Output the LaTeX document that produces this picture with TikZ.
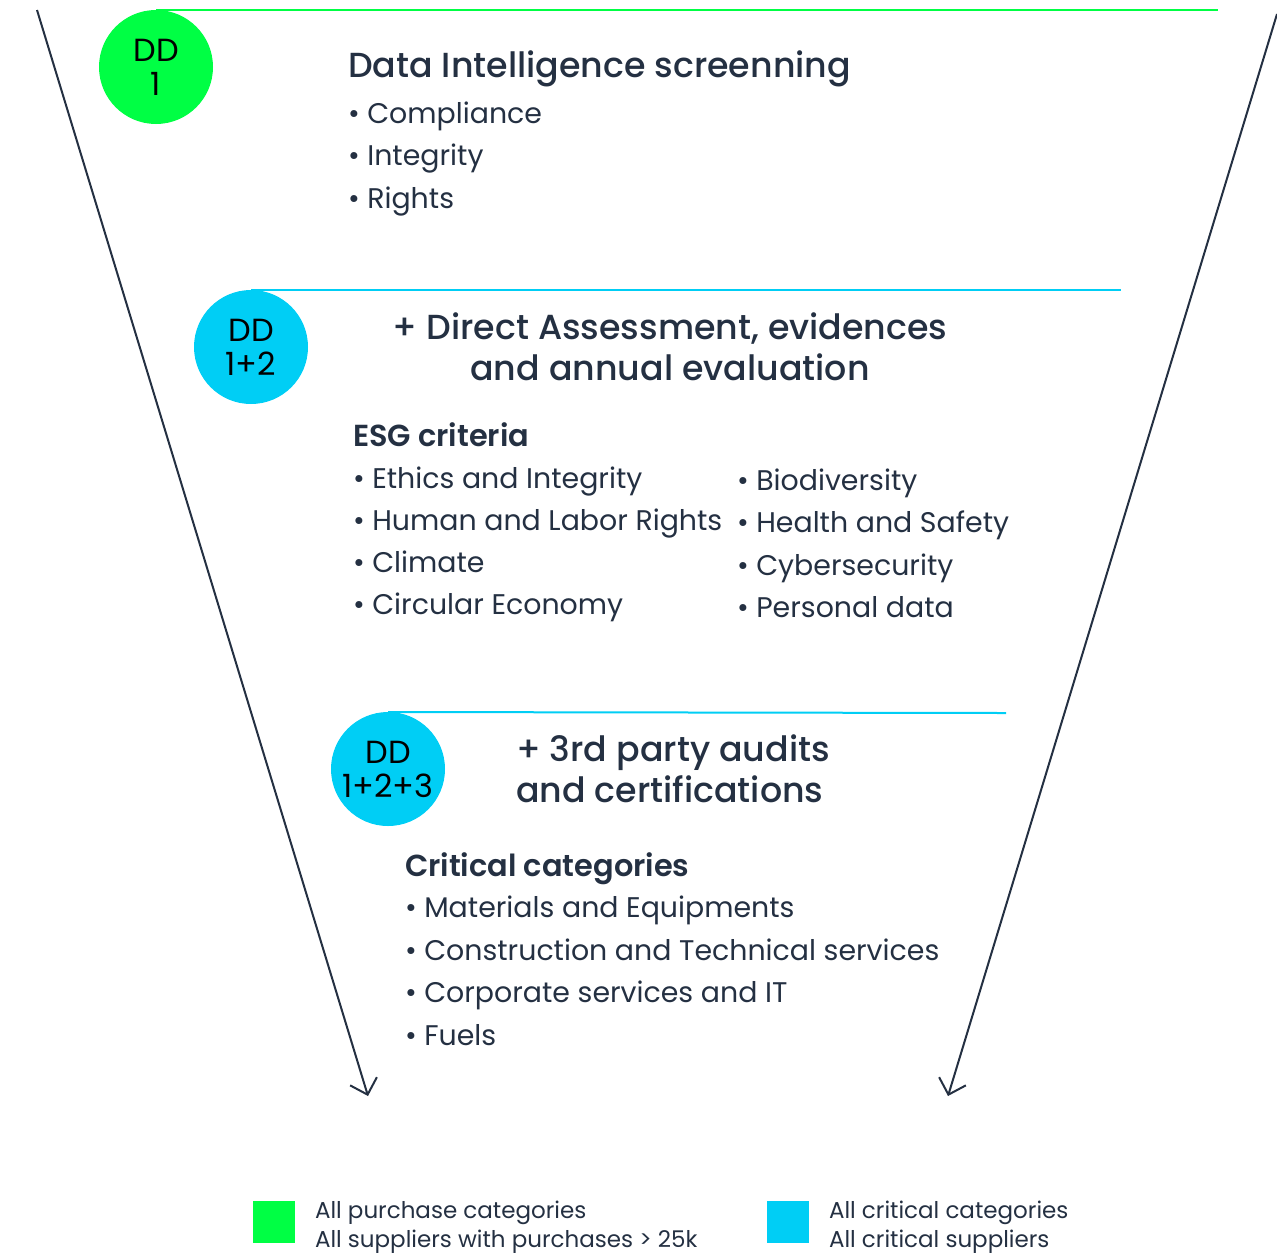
\documentclass[tikz,border=0pt]{standalone}
\usepackage{fontspec}
\setmainfont{Poppins}
\newfontfamily\medfont{Poppins Medium}
\newfontfamily\semifont{Poppins SemiBold}
\usetikzlibrary{arrows.meta}

\begin{document}
\begin{tikzpicture}[x=0.5pt,y=-0.5pt,
  every node/.style={inner sep=0pt, outer sep=0pt, text=inkcol},
  ddmark/.style={circle, minimum size=57pt, align=center, text=black,
    font=\fontsize{16}{17}\selectfont},
  headtxt/.style={anchor=base west, font=\medfont\fontsize{17.4}{21}\selectfont},
  subhead/.style={anchor=base west, font=\semifont\fontsize{15.2}{18}\selectfont},
  itemtxt/.style={anchor=base west, font=\fontsize{14.2}{17}\selectfont},
  keytxt/.style={anchor=base west, font=\fontsize{11.5}{14}\selectfont},
  keybox/.style={minimum size=21pt},
  funnel/.style={draw=inkcol, line width=1pt,
    -{Straight Barb[length=7pt,width=14pt,line width=1pt]}},
]

% Colours of the funnel
\definecolor{inkcol}{RGB}{36,48,66}
\definecolor{ddgreen}{RGB}{0,255,68}
\definecolor{ddcyan}{RGB}{0,206,245}

\useasboundingbox (0,0) rectangle (1277,1258);

% Funnel sides
\coordinate (ltop) at (37,10);
\coordinate (ltip) at (368,1096);
\coordinate (rtop) at (1277,14);
\coordinate (rtip) at (948,1096);
\draw[funnel] (ltop) -- (ltip);
\draw[funnel] (rtop) -- (rtip);

% Level 1
\node[ddmark, fill=ddgreen] (dd1) at (156,67) {DD\\1};
\coordinate (g-end) at (1218,10);
\draw[ddgreen, line width=1pt] (dd1.north) -- (g-end);

\node[headtxt] (head1) at (348,77) {Data Intelligence screenning};
\foreach \txt [count=\i] in {Compliance, Integrity, Rights} {
  \node[itemtxt] (lvl1-\i) at (348,{80.5+42.5*\i}) {\textbullet\ \txt};
}

% Level 2
\node[ddmark, fill=ddcyan] (dd2) at (251,347) {DD\\1+2};
\coordinate (c2-end) at (1121,290);
\draw[ddcyan, line width=1pt] (dd2.north) -- (c2-end);

\node[headtxt, anchor=base] (head2a) at (670,339) {+ Direct Assessment, evidences};
\node[headtxt, anchor=base] (head2b) at (670,380) {and annual evaluation};
\node[subhead] (esg) at (353,446) {ESG criteria};

\foreach \txt [count=\i] in {Ethics and Integrity, Human and Labor Rights,
    Climate, Circular Economy} {
  \node[itemtxt] (esgl-\i) at (353,{446+42*\i}) {\textbullet\ \txt};
}
\foreach \txt [count=\i] in {Biodiversity, Health and Safety,
    Cybersecurity, Personal data} {
  \node[itemtxt] (esgr-\i) at (737,{447.5+42.5*\i}) {\textbullet\ \txt};
}

% Level 3
\node[ddmark, fill=ddcyan] (dd3) at (388,769) {DD\\1+2+3};
\coordinate (c3-end) at (1006,713);
\draw[ddcyan, line width=1pt] (dd3.north) -- (c3-end);

\node[headtxt] (head3a) at (516,761) {+ 3rd party audits};
\node[headtxt] (head3b) at (516,802) {and certifications};
\node[subhead] (crit) at (405,876) {Critical categories};

\foreach \txt [count=\i] in {Materials and Equipments,
    Construction and Technical services, Corporate services and IT, Fuels} {
  \node[itemtxt] (crit-\i) at (405,{875+42.5*\i}) {\textbullet\ \txt};
}

% Legend
\node[keybox, fill=ddgreen] (key1) at (274,1222) {};
\node[keytxt] (key1a) at (315,1218) {All purchase categories};
\node[keytxt] (key1b) at (315,1247) {All suppliers with purchases > 25k};

\node[keybox, fill=ddcyan] (key2) at (788,1222) {};
\node[keytxt] (key2a) at (829,1218) {All critical categories};
\node[keytxt] (key2b) at (829,1247) {All critical suppliers};

\end{tikzpicture}
\end{document}
